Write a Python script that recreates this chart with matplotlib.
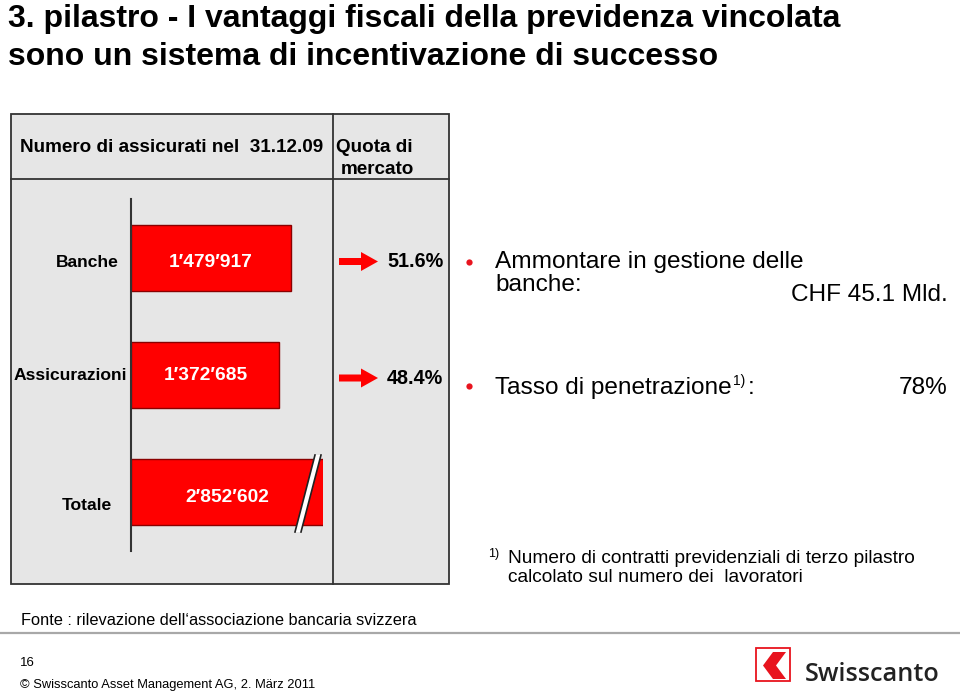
import matplotlib
matplotlib.use("Agg")
import matplotlib.pyplot as plt
from matplotlib.patches import Rectangle, Polygon, FancyArrow
from matplotlib import font_manager

# ---------------- data ----------------
categories = ["Banche", "Assicurazioni", "Totale"]
assicurati = [1479917, 1372685, 2852602]
value_labels = ["1\u2032479\u2032917", "1\u2032372\u2032685", "2\u2032852\u2032602"]
quota_labels = ["51.6%", "48.4%"]
title_lines = ["3. pilastro - I vantaggi fiscali della previdenza vincolata",
               "sono un sistema di incentivazione di successo"]
header_left = "Numero di assicurati nel  31.12.09"
header_right = ["Quota di", "mercato"]
bullet_1 = ["Ammontare in gestione delle", "banche:"]
bullet_1_value = "CHF 45.1 Mld."
bullet_2 = "Tasso di penetrazione"
bullet_2_value = "78%"
footnote = ["Numero di contratti previdenziali di terzo pilastro",
            "calcolato sul numero dei  lavoratori"]
source = "Fonte : rilevazione dell\u2018associazione bancaria svizzera"
page_no = "16"
copyright_txt = "\u00a9 Swisscanto Asset Management AG, 2. M\u00e4rz 2011"
brand = "Swisscanto"

# ---------------- fonts ----------------
names = {f.name for f in font_manager.fontManager.ttflist}
narrow = "Liberation Sans Narrow" if "Liberation Sans Narrow" in names else None
SANS = ["Liberation Sans", "DejaVu Sans"]
plt.rcParams["font.family"] = SANS

W, H = 960, 700
fig = plt.figure(figsize=(W / 100, H / 100), dpi=100)
fig.patch.set_facecolor("white")

bg = fig.add_axes([0, 0, 1, 1], zorder=0)
bg.set_xlim(0, W)
bg.set_ylim(H, 0)
bg.axis("off")

RED = "#ff0000"
GRAY_BOX = "#e6e6e6"
DARK = "#333333"

# title
if narrow:
    tfam, tsize = [narrow, "DejaVu Sans"], 24
else:
    tfam, tsize = SANS, 23.0
bg.text(8, 27, title_lines[0], fontsize=tsize, fontweight="bold", family=tfam,
        va="baseline", ha="left", color="black")
bg.text(8, 65, title_lines[1], fontsize=tsize, fontweight="bold", family=tfam,
        va="baseline", ha="left", color="black")

# gray table box
bx0, by0, bx1, by1 = 11, 114, 449, 584
bg.add_patch(Rectangle((bx0, by0), bx1 - bx0, by1 - by0, facecolor=GRAY_BOX,
                       edgecolor=DARK, lw=1.3))
bg.plot([bx0, bx1], [179, 179], color=DARK, lw=1.3)
bg.plot([333, 333], [by0, by1], color=DARK, lw=1.3)

HS = 13.6
bg.text(20, 152, header_left, fontsize=HS, fontweight="bold", va="baseline", ha="left")
bg.text(336, 152, header_right[0], fontsize=HS, fontweight="bold", va="baseline", ha="left")
bg.text(341, 174, header_right[1], fontsize=HS, fontweight="bold", va="baseline", ha="left")

# ---------------- bar axes ----------------
ax_x0, ax_x1, ax_y0, ax_y1 = 131, 323, 199, 551
bar_ax = fig.add_axes([ax_x0 / W, 1 - ax_y1 / H, (ax_x1 - ax_x0) / W, (ax_y1 - ax_y0) / H],
                      zorder=1)
bar_ax.patch.set_visible(False)
px_per_unit = (290.7 - 131) / assicurati[0]
bar_ax.set_xlim(0, (ax_x1 - ax_x0) / px_per_unit)
bar_ax.set_ylim(len(categories) - 0.5, -0.5)
ypos = list(range(len(categories)))
bars = bar_ax.barh(ypos, assicurati, height=0.56, color=RED, edgecolor="#8a0000",
                   linewidth=1.0)
for b in bars:
    b.set_clip_on(True)
for s in ["top", "right", "bottom"]:
    bar_ax.spines[s].set_visible(False)
bar_ax.spines["left"].set_color(DARK)
bar_ax.spines["left"].set_linewidth(1.5)
bar_ax.set_xticks([])
bar_ax.set_yticks([])

# category labels and values (pixel coordinates)
CS = 12.6
cat_pos = [(119, 267), (127, 380), (112, 510)]
val_pos = [(211, 267), (206, 380), (227, 502)]
for name, (x, y) in zip(categories, cat_pos):
    bg.text(x, y, name, fontsize=CS, fontweight="bold", ha="right", va="baseline")
for lab, (x, y) in zip(value_labels, val_pos):
    bar_ax.text(x, y, lab, fontsize=13.8, fontweight="bold", ha="center", va="baseline",
                color="white", transform=bg.transData, clip_on=False, zorder=5)

# break marks on the total bar
band = Polygon([(315, 455), (321, 455), (301, 532), (295, 532)], closed=True,
               facecolor="white", edgecolor="none", transform=bg.transData, zorder=4,
               clip_on=False)
bar_ax.add_patch(band)
bar_ax.plot([315, 295], [455, 532], color="#222222", lw=1.2, transform=bg.transData,
            clip_on=False, zorder=4)
bar_ax.plot([321, 301], [455, 532], color="#222222", lw=1.2, transform=bg.transData,
            clip_on=False, zorder=4)

# arrows and market share
for lab, yb, ya in zip(quota_labels, [267, 384], [261.5, 378]):
    bg.add_patch(FancyArrow(339, ya, 22, 0, width=7, head_width=19, head_length=17,
                            length_includes_head=False, color=RED, lw=0))
    bg.text(387, yb, lab, fontsize=14.2, fontweight="bold", ha="left", va="baseline")

# ---------------- right side text ----------------
RS = 17.6
for yb in [262, 386]:
    bg.plot(469, yb, marker="o", ms=4.5, color="#e8141e", mec="none")
bg.text(495, 268, bullet_1[0], fontsize=RS, ha="left", va="baseline")
bg.text(495, 291, bullet_1[1], fontsize=RS, ha="left", va="baseline")
bg.text(948, 301, bullet_1_value, fontsize=RS, ha="right", va="baseline")
t2 = bg.text(495, 394, bullet_2, fontsize=RS, ha="left", va="baseline")
bg.text(948, 394, bullet_2_value, fontsize=RS, ha="right", va="baseline")

fig.canvas.draw()
r = fig.canvas.get_renderer()
ext = t2.get_window_extent(renderer=r)
x_end = bg.transData.inverted().transform((ext.x1, ext.y0))[0]
sup = bg.text(x_end + 1, 385, "1)", fontsize=10, ha="left", va="baseline")
fig.canvas.draw()
ext2 = sup.get_window_extent(renderer=r)
x_end2 = bg.transData.inverted().transform((ext2.x1, ext2.y0))[0]
bg.text(x_end2 + 3, 394, ":", fontsize=RS, ha="left", va="baseline")

# footnote
bg.text(488, 557, "1)", fontsize=9, ha="left", va="baseline")
bg.text(508, 563, footnote[0], fontsize=13.8, ha="left", va="baseline")
bg.text(508, 582, footnote[1], fontsize=13.8, ha="left", va="baseline")

# source, separator, footer
bg.text(21, 625, source, fontsize=11.8, ha="left", va="baseline")
bg.plot([0, W], [633, 633], color="#a8a8a8", lw=1.6)
bg.text(20, 666, page_no, fontsize=9.5, ha="left", va="baseline")
bg.text(20, 688, copyright_txt, fontsize=9.3, ha="left", va="baseline")

# logo
bg.add_patch(Rectangle((756, 648), 34, 33, facecolor="white", edgecolor="#e8141e", lw=1.3))
bg.add_patch(Polygon([(773, 652), (786, 652), (776, 665.5), (786, 679), (773, 679), (763, 665.5)],
                     closed=True, facecolor="#e8141e", edgecolor="none"))
bg.text(805, 681, brand, fontsize=18.2, fontweight="semibold",
        family=["Open Sans", "DejaVu Sans"], color="#222222", ha="left", va="baseline")

fig.savefig("out.png", dpi=100)
